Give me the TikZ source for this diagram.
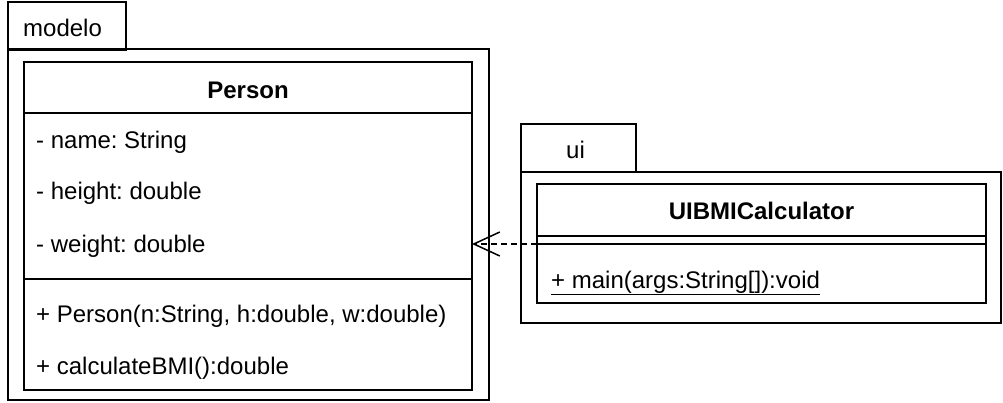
\documentclass[tikz,border=0pt]{standalone}
\usepackage{fontspec}
\setmainfont{Liberation Sans}
\usetikzlibrary{arrows.meta}
\frenchspacing
\begin{document}
\begin{tikzpicture}[x=1pt,y=-1pt,
  box/.style={draw, line width=2pt, rectangle, outer sep=0pt, inner sep=0pt, anchor=north west},
  txt/.style={anchor=base west, inner sep=0pt, font=\fontsize{24}{28}\selectfont\frenchspacing},
  ttl/.style={anchor=base, inner sep=0pt, font=\fontsize{24}{28}\selectfont\bfseries},
  sep/.style={line width=2pt},
  dep/.style={line width=1.5pt, dash pattern=on 6pt off 4pt, -{Straight Barb[length=26pt,width=24pt]}}
]
\useasboundingbox[fill=white] (0,0) rectangle (1003,403);
% package modelo
\node[box, minimum width=118pt, minimum height=48pt] (modtab) at (8,2) {};
\node[box, minimum width=481pt, minimum height=351pt] (modpkg) at (8,49) {};
\node[txt] (modlabel) at (23,37) {modelo};
% class Person
\node[box, minimum width=448pt, minimum height=328pt] (person) at (24,62) {};
\coordinate (pd1l) at (24,113); \coordinate (pd1r) at (472,113);
\coordinate (pd2l) at (24,279); \coordinate (pd2r) at (472,279);
\draw[sep] (pd1l) -- (pd1r);
\draw[sep] (pd2l) -- (pd2r);
\node[ttl] (ptitle) at (248,99) {Person};
\node[txt] (a1) at (36,149) {- name: String};
\node[txt] (a2) at (36,200) {- height: double};
\node[txt] (a3) at (36,252) {- weight: double};
\node[txt] (m1) at (36,322) {+ Person(n:String, h:double, w:double)};
\node[txt] (m2) at (36,374) {+ calculateBMI():double};
% package ui
\node[box, minimum width=115pt, minimum height=48pt] (uitab) at (521,124) {};
\node[box, minimum width=480pt, minimum height=151pt] (uipkg) at (521,172) {};
\node[txt] (uilabel) at (566,159) {ui};
% class UIBMICalculator
\node[box, minimum width=449pt, minimum height=119pt] (uicls) at (537,184) {};
\coordinate (ud1l) at (537,236); \coordinate (ud1r) at (986,236);
\coordinate (ud2l) at (537,244); \coordinate (ud2r) at (986,244);
\draw[sep] (ud1l) -- (ud1r);
\draw[sep] (ud2l) -- (ud2r);
\node[ttl] (utitle) at (761.5,220) {UIBMICalculator};
\node[txt] (um1) at (551,288) {\underline{+ main(args:String[]):void}};
% dependency
\draw[dep] (ud2l) -- (person.east |- ud2l);
\end{tikzpicture}
\end{document}
